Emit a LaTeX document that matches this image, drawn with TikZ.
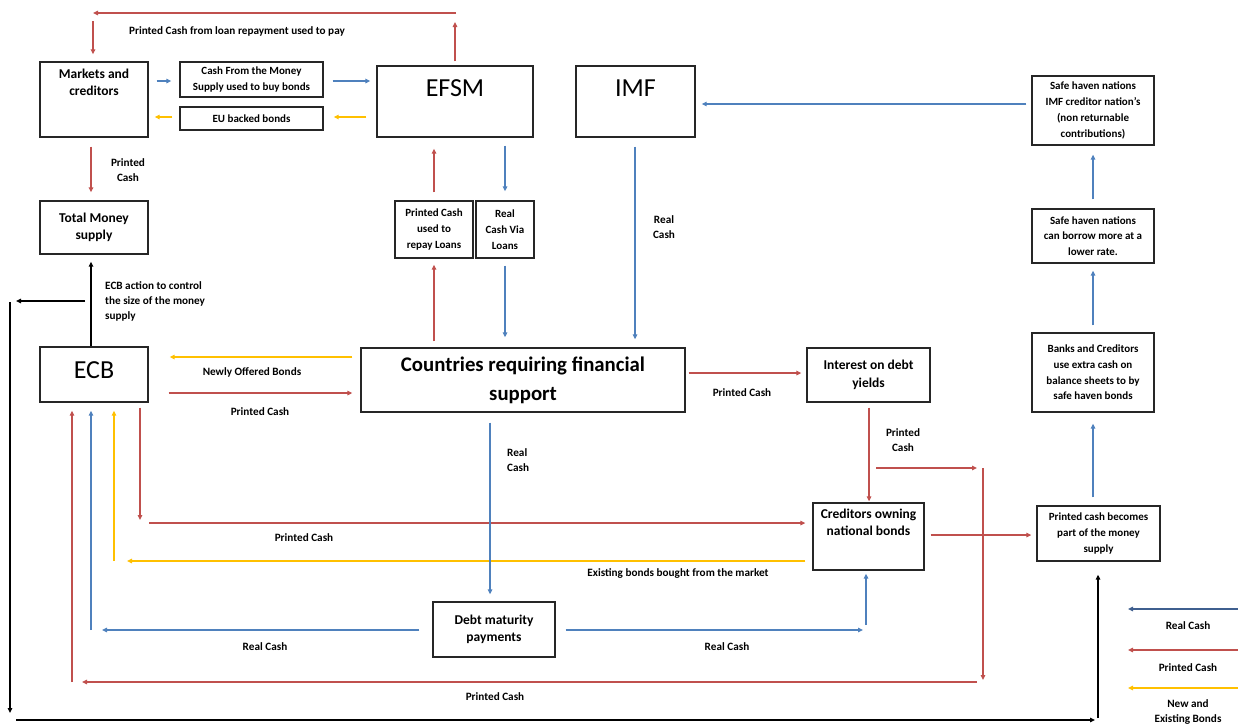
\documentclass[tikz,border=0pt]{standalone}
\usepackage{fontspec}
\setmainfont{Carlito}
\usetikzlibrary{arrows.meta,positioning}

\definecolor{cashred}{HTML}{C0504D}
\definecolor{cashblue}{HTML}{4F81BD}
\definecolor{bondyel}{HTML}{FFC000}
\definecolor{legblue}{HTML}{3F5F8F}

\tikzset{
  box/.style={draw=black!85, line width=1.3pt, inner sep=1pt, align=center,
    font=\bfseries\fontsize{13.5}{17.5}\selectfont},
  smallbox/.style={box, font=\bfseries\fontsize{11}{15.7}\selectfont},
  bigtxt/.style={inner sep=0pt, font=\fontsize{26}{30}\selectfont},
  boxtxt/.style={inner sep=0pt, align=center, font=\bfseries\fontsize{13.5}{17.5}\selectfont},
  lbl/.style={inner sep=0pt, align=center, font=\bfseries\fontsize{11.2}{15}\selectfont},
  flow/.style={line width=1.6pt, -{Triangle[length=5pt,width=4.5pt]}},
  redflow/.style={flow, draw=cashred},
  blueflow/.style={flow, draw=cashblue},
  yelflow/.style={flow, draw=bondyel},
  blkflow/.style={flow, line width=1.7pt, draw=black},
}

\begin{document}
\begin{tikzpicture}[x=1pt,y=-1pt]
    \useasboundingbox (0,0) rectangle (1238,726);

    % Top row
    \node[box, minimum width=108pt, minimum height=75pt] (mkt) at (94,99.5) {};
    \node[boxtxt, below=7pt of mkt.north] (mkttxt) {Markets and\\creditors};
    \node[smallbox, minimum width=143pt, minimum height=35pt] (cashbox) at (251.5,79.5) {Cash From the Money\\Supply used to buy bonds};
    \node[smallbox, minimum width=143pt, minimum height=23pt] (eubox) at (251.5,118.5) {EU backed bonds};
    \node[box, minimum width=156pt, minimum height=71pt] (efsm) at (455,101.5) {};
    \node[bigtxt, below=14pt of efsm.north] (efsmtxt) {EFSM};
    \node[box, minimum width=119pt, minimum height=71pt] (imf) at (635.5,101.5) {};
    \node[bigtxt, below=14pt of imf.north] (imftxt) {IMF};
    \node[smallbox, minimum width=122pt, minimum height=69pt] (safe1) at (1093,110.5) {Safe haven nations\\IMF creditor nation’s\\(non returnable\\contributions)};

    % Middle row
    \node[box, minimum width=108pt, minimum height=53pt] (tms) at (94,227.5) {Total Money\\supply};
    \node[smallbox, minimum width=78pt, minimum height=57pt] (repay) at (434,229.5) {Printed Cash\\used to\\repay Loans};
    \node[smallbox, minimum width=58pt, minimum height=57pt] (realv) at (505,229.5) {Real\\Cash Via\\Loans};
    \node[smallbox, minimum width=122pt, minimum height=54pt] (safe2) at (1093,236) {Safe haven nations\\can borrow more at a\\lower rate.};
    \node[box, minimum width=108pt, minimum height=55pt] (ecb) at (94,374.5) {};
    \node[bigtxt, below=15pt of ecb.north] (ecbtxt) {ECB};
    \node[box, minimum width=324pt, minimum height=64pt, font=\bfseries\fontsize{20.8}{29}\selectfont] (cnt) at (523,380) {Countries requiring financial\\support};
    \node[box, minimum width=123pt, minimum height=54pt] (intr) at (868.5,375) {Interest on debt\\yields};
    \node[smallbox, minimum width=122pt, minimum height=79pt] (banks) at (1093,372.5) {Banks and Creditors\\use extra cash on\\balance sheets to by\\safe haven bonds};

    % Bottom row
    \node[box, minimum width=111pt, minimum height=67pt] (cred) at (868.5,536.5) {};
    \node[boxtxt, below=6pt of cred.north] (credtxt) {Creditors owning\\national bonds};
    \node[smallbox, minimum width=123pt, minimum height=55pt] (prntsup) at (1098.5,533.5) {Printed cash becomes\\part of the money\\supply};
    \node[box, minimum width=122pt, minimum height=55pt] (dmp) at (494,629.5) {Debt maturity\\payments};

    % Route points
    \coordinate (topr) at (456,13);
    \coordinate (topl) at (93,13);
    \coordinate (brA) at (876,468);
    \coordinate (brB) at (983,468);
    \coordinate (brC) at (983,682);
    \coordinate (brD) at (72,682);
    \coordinate (ecbdn) at (140,520);
    \coordinate (pcl) at (149,523);
    \coordinate (ebc) at (114,561);
    \coordinate (rcl) at (91,630);
    \coordinate (rcr) at (866,630);
    \coordinate (ctlL) at (10,301);
    \coordinate (ctlB) at (10,720);

    % Loop above EFSM
    \draw[redflow] ([yshift=4pt]efsm.north) -- ([yshift=-9pt]efsm.north |- topr);
    \draw[redflow] (topr) -- (topl);
    \draw[redflow] ([yshift=-8pt]topl) -- ([yshift=7pt]topl |- mkt.north);

    % Markets and EFSM
    \draw[blueflow, shorten <=8pt, shorten >=8pt] ([yshift=-1.5pt]mkt.east |- cashbox.west) -- ([yshift=-1.5pt]cashbox.west);
    \draw[blueflow, shorten <=9pt, shorten >=6pt] ([yshift=-1.5pt]cashbox.east) -- ([yshift=-1.5pt]cashbox.east -| efsm.west);
    \draw[yelflow, shorten <=10pt, shorten >=10pt] ([yshift=1.5pt]efsm.west |- eubox.east) -- ([yshift=1.5pt]eubox.east);
    \draw[yelflow, shorten <=7pt, shorten >=6pt] ([yshift=1.5pt]eubox.west) -- ([yshift=1.5pt]eubox.west -| mkt.east);
    \draw[redflow, shorten <=9pt, shorten >=8pt] ([xshift=-3pt]mkt.south) -- ([xshift=-3pt]tms.north);

    % Loans
    \draw[redflow, shorten <=8pt, shorten >=11pt] (repay.north) -- (repay.north |- efsm.south);
    \draw[redflow, shorten <=6pt, shorten >=6pt] (repay.south |- cnt.north) -- (repay.south);
    \draw[blueflow, shorten <=8pt, shorten >=9pt] (efsm.south -| realv.north) -- (realv.north);
    \draw[blueflow, shorten <=7pt, shorten >=10pt] (realv.south) -- (realv.south |- cnt.north);
    \draw[blueflow, shorten <=9pt, shorten >=8pt] ([xshift=-0.5pt]imf.south) -- ([xshift=-0.5pt]imf.south |- cnt.north);

    % Safe haven column
    \draw[blueflow, shorten <=5pt, shorten >=6pt] ([yshift=-2.5pt]safe1.west |- imf.east) -- ([yshift=-2.5pt]imf.east);
    \draw[blueflow, shorten <=9pt, shorten >=9pt] (safe2.north) -- (safe1.south);
    \draw[blueflow, shorten <=7pt, shorten >=7pt] (banks.north) -- (safe2.south);
    \draw[blueflow, shorten <=8pt, shorten >=11pt] (banks.south |- prntsup.north) -- (banks.south);

    % Interest and creditors
    \draw[redflow, shorten <=3pt, shorten >=5pt] ([yshift=2pt]cnt.east |- intr.west) -- ([yshift=2pt]intr.west);
    \draw[redflow, shorten <=5pt, shorten >=1pt] ([xshift=0.5pt]intr.south) -- ([xshift=0.5pt]intr.south |- cred.north);
    \draw[redflow, shorten >=6pt] (brA) -- (brB);
    \draw[redflow, shorten >=2pt] (brB) -- (brC);
    \draw[redflow, shorten <=6pt, shorten >=10pt] (brC) -- (brD);
    \draw[redflow, shorten >=8pt] (brD) -- (brD |- ecb.south);
    \draw[redflow, shorten <=6pt, shorten >=5pt] ([yshift=1.5pt]cred.east) -- ([yshift=1.5pt]cred.east -| prntsup.west);

    % ECB flows
    \draw[yelflow, shorten <=8pt, shorten >=21pt] ([yshift=17.5pt]ecb.east -| cnt.west) -- ([yshift=17.5pt]ecb.east);
    \draw[redflow, shorten <=20pt, shorten >=8pt] ([yshift=-18.5pt]ecb.east) -- ([yshift=-18.5pt]ecb.east -| cnt.west);
    \draw[redflow, shorten <=5pt] (ecbdn |- ecb.south) -- (ecbdn);
    \draw[redflow, shorten >=7pt] (pcl) -- (pcl -| cred.west);
    \draw[yelflow, shorten <=7pt, shorten >=13pt] (ebc -| cred.west) -- (ebc);
    \draw[yelflow, shorten >=8pt] (ebc) -- (ebc |- ecb.south);

    % Debt maturity
    \draw[blueflow, shorten <=10pt, shorten >=7pt] ([xshift=-4pt]cnt.south -| dmp.north) -- ([xshift=-4pt]dmp.north);
    \draw[blueflow, shorten <=13pt, shorten >=11pt] (rcl -| dmp.west) -- (rcl);
    \draw[blueflow, shorten >=8pt] (rcl) -- (rcl |- ecb.south);
    \draw[blueflow, shorten <=10pt, shorten >=3pt] (rcr -| dmp.east) -- (rcr);
    \draw[blueflow, shorten <=5pt, shorten >=3pt] (rcr) -- (rcr |- cred.south);

    % Money supply control
    \draw[blkflow, shorten >=7pt] ([xshift=-3pt]ecb.north) -- ([xshift=-3pt]tms.south);
    \draw[blkflow, shorten <=6pt, shorten >=6pt] ([xshift=-3pt]ecb.north |- ctlL) -- (ctlL);
    \draw[blkflow, shorten <=1pt, shorten >=7pt] (ctlL) -- (ctlB);
    \draw[blkflow, line width=2.4pt, shorten <=6pt, shorten >=3pt] (ctlB) -- ([xshift=-0.5pt]ctlB -| prntsup.south);
    \draw[blkflow, shorten <=2pt, shorten >=13pt] ([xshift=-0.5pt]ctlB -| prntsup.south) -- ([xshift=-0.5pt]prntsup.south);

    % Labels
    \node[lbl] (l1) at (237,31) {Printed Cash from loan repayment used to pay};
    \node[lbl] (l2) at (128,170) {Printed\\Cash};
    \node[lbl, anchor=west, align=left] (l3) at (105,301) {ECB action to control\\the size of the money\\supply};
    \node[lbl] (l4) at (252,372) {Newly Offered Bonds};
    \node[lbl] (l5) at (260,412) {Printed Cash};
    \node[lbl] (l6) at (664,227) {Real\\Cash};
    \node[lbl, anchor=west, align=left] (l7) at (507,460) {Real\\Cash};
    \node[lbl] (l8) at (742,393) {Printed Cash};
    \node[lbl] (l9) at (903,440) {Printed\\Cash};
    \node[lbl] (l10) at (304,538) {Printed Cash};
    \node[lbl] (l11) at (678,573) {Existing bonds bought from the market};
    \node[lbl] (l12) at (265,647) {Real Cash};
    \node[lbl] (l13) at (727,647) {Real Cash};
    \node[lbl] (l14) at (495,697) {Printed Cash};

    % Legend
    \coordinate (lgR1) at (1238,609);
    \coordinate (lgL1) at (1128,609);
    \coordinate (lgR2) at (1238,650);
    \coordinate (lgL2) at (1128,650);
    \coordinate (lgR3) at (1238,688);
    \coordinate (lgL3) at (1128,688);
    \draw[flow, draw=legblue] (lgR1) -- (lgL1);
    \draw[redflow] (lgR2) -- (lgL2);
    \draw[yelflow] (lgR3) -- (lgL3);
    \node[lbl] (lg1) at (1188,626) {Real Cash};
    \node[lbl] (lg2) at (1188,668) {Printed Cash};
    \node[lbl] (lg3) at (1188,712) {New and\\Existing Bonds};
\end{tikzpicture}
\end{document}
